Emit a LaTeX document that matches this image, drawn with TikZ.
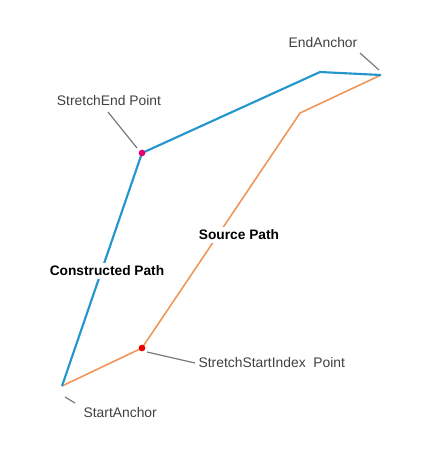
\documentclass[tikz,border=0pt]{standalone}
\usepackage{fontspec}
\setmainfont{Liberation Sans}
\usetikzlibrary{positioning}
\definecolor{constblue}{RGB}{35,150,205}
\definecolor{srcorange}{RGB}{240,150,90}
\definecolor{startred}{RGB}{235,0,0}
\definecolor{endmagenta}{RGB}{225,0,110}
\definecolor{leadgray}{RGB}{120,120,120}

\begin{document}
\begin{tikzpicture}[
    x=0.75pt, y=-0.75pt,
    marker/.style={circle, inner sep=0pt, minimum size=5pt},
    callout/.style={font=\fontsize{10.4}{12}\selectfont, text=black!75, inner sep=1pt},
    pathlabel/.style={font=\fontsize{10.3}{12}\selectfont\bfseries, fill=white, inner sep=2pt},
    leader/.style={draw=leadgray, line width=0.9pt},
    constructed/.style={draw=constblue, line width=1.6pt, line join=round},
    source/.style={draw=srcorange, line width=1.2pt, line join=round}
]
    \useasboundingbox (0,0) rectangle (444,455);

    % Path vertices
    \coordinate (start) at (62,386);
    \coordinate (sidx) at (142,348);
    \coordinate (send) at (142,153);
    \coordinate (bend) at (300,113);
    \coordinate (knee) at (320,72);
    \coordinate (end) at (381,75);

    % Paths
    \draw[source] (start) -- (sidx) -- (bend) -- (end);
    \draw[constructed] (start) -- (send) -- (knee) -- (end);

    % Points
    \node[marker, fill=startred] (sidxdot) at (sidx) {};
    \node[marker, fill=endmagenta] (senddot) at (send) {};

    % Path labels
    \node[pathlabel] (srclbl) at (239,235) {Source Path};
    \node[pathlabel] (constlbl) at (107,271) {Constructed Path};

    % Callouts
    \node[callout] (sendlbl) at (109,101) {StretchEnd Point};
    \node[callout] (endlbl) at (323,43) {EndAnchor};
    \node[callout, anchor=west] (sidxlbl) at (197,363) {StretchStartIndex\ \ Point};
    \node[callout, anchor=west] (startlbl) at (82,413) {StartAnchor};

    % Leader lines
    \coordinate (sendlead) at (108,112);
    \coordinate (sendtip) at (137,148);
    \coordinate (endlead) at (360,53);
    \coordinate (endtip) at (379,70);
    \coordinate (sidxlead) at (195,363);
    \coordinate (sidxtip) at (147,352);
    \coordinate (startlead) at (75,403);
    \coordinate (starttip) at (65,397);
    \draw[leader] (sendlead) -- (sendtip);
    \draw[leader] (endlead) -- (endtip);
    \draw[leader] (sidxlead) -- (sidxtip);
    \draw[leader] (startlead) -- (starttip);
\end{tikzpicture}
\end{document}
